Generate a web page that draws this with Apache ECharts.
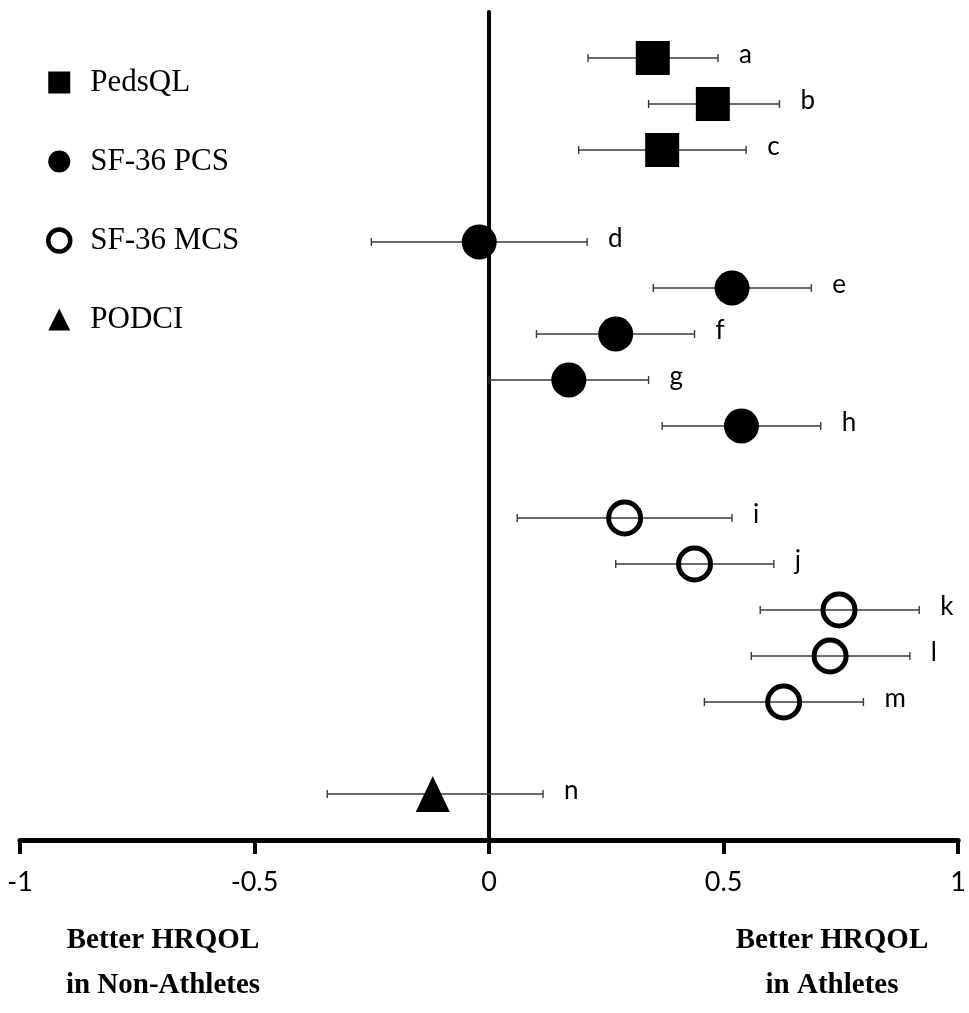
<!DOCTYPE html>
<html>
<head>
<meta charset="utf-8">
<script src="https://cdn.jsdelivr.net/npm/echarts@6/dist/echarts.min.js"></script>
<style>html,body{margin:0;padding:0;background:#fff}#chart{width:969px;height:1013px}</style>
</head>
<body>
<div id="chart"></div>
<script>
const rowLabels = ['a','b','c','d','e','f','g','h','i','j','k','l','m','n'];
const rowPos = [0,1,2,4,5,6,7,8,10,11,12,13,14,16];
const estimates = [0.349,0.477,0.369,-0.021,0.518,0.270,0.170,0.538,0.289,0.438,0.746,0.727,0.628,-0.120];
const lower = [0.211,0.340,0.191,-0.251,0.350,0.101,0.000,0.369,0.060,0.270,0.578,0.559,0.459,-0.345];
const upper = [0.488,0.619,0.548,0.209,0.687,0.438,0.340,0.707,0.518,0.607,0.917,0.897,0.798,0.115];
const instrument = ['PedsQL','PedsQL','PedsQL','SF-36 PCS','SF-36 PCS','SF-36 PCS','SF-36 PCS','SF-36 PCS',
  'SF-36 MCS','SF-36 MCS','SF-36 MCS','SF-36 MCS','SF-36 MCS','PODCI'];
const instruments = ['PedsQL','SF-36 PCS','SF-36 MCS','PODCI'];
const xTicks = [-1,-0.5,0,0.5,1];
const leftCaption = ['Better HRQOL','in Non-Athletes'];
const rightCaption = ['Better HRQOL','in Athletes'];

const symbolStyles = {
  'PedsQL': {symbol:'rect', symbolSize:34, itemStyle:{color:'#000',opacity:1}},
  'SF-36 PCS': {symbol:'circle', symbolSize:35, itemStyle:{color:'#000',opacity:1}},
  'SF-36 MCS': {symbol:'circle', symbolSize:32, itemStyle:{color:'rgba(255,255,255,0)', borderColor:'#000', borderWidth:5,opacity:1}},
  'PODCI': {symbol:'triangle', symbolSize:[34,36], itemStyle:{color:'#000',opacity:1}}
};
const legendIcons = {
  'PedsQL': {icon:'rect', itemStyle:{color:'#000',opacity:1}},
  'SF-36 PCS': {icon:'circle', itemStyle:{color:'#000',opacity:1}},
  'SF-36 MCS': {icon:'circle', itemStyle:{color:'#fff', borderColor:'#000', borderWidth:4.5,opacity:1}},
  'PODCI': {icon:'triangle', itemStyle:{color:'#000',opacity:1}}
};

const errData = rowLabels.map((l,i)=>[lower[i], upper[i], rowPos[i], l]);

const scatterSeries = instruments.map(name => {
  const st = symbolStyles[name];
  const data = [];
  instrument.forEach((ins,i)=>{ if(ins===name) data.push([estimates[i], rowPos[i]]); });
  return Object.assign({name, type:'scatter', data, z:5, emphasis:{disabled:true}}, st);
});

const chart = echarts.init(document.getElementById('chart'));
chart.setOption({
  animation:false,
  backgroundColor:'#fff',
  grid:{left:20,right:9,top:12,bottom:173},
  xAxis:{type:'value',min:-1,max:1,interval:0.5,
    axisLine:{onZero:false,lineStyle:{color:'#000',width:5}},
    axisTick:{show:true,length:14,lineStyle:{color:'#000',width:4}},
    splitLine:{show:false},
    axisLabel:{fontFamily:'Lato',fontSize:27,color:'#000',margin:29,
      customValues:xTicks, formatter:v=>String(v)}
  },
  yAxis:{type:'value',min:-1,max:17,inverse:true,
    axisLine:{show:true,onZero:true,lineStyle:{color:'#000',width:4}},
    axisTick:{show:false},axisLabel:{show:false},splitLine:{show:false}
  },
  legend:{orient:'vertical',left:41,top:62,itemWidth:22,itemHeight:22,itemGap:48,
    data:instruments.map(n=>Object.assign({name:n}, legendIcons[n])),
    textStyle:{fontFamily:'Liberation Serif',fontSize:31,color:'#000',lineHeight:30,padding:[0,0,0,15]}
  },
  series:[{
    type:'custom',
    data:errData,
    encode:{x:[0,1],y:2},
    z:3,
    renderItem:(params,api)=>{
      const y = api.value(2);
      const p1 = api.coord([api.value(0), y]);
      const p2 = api.coord([api.value(1), y]);
      const cap = 4;
      const ls = {stroke:'#3a3a3a', lineWidth:1.4};
      return {type:'group',children:[
        {type:'line',shape:{x1:p1[0],y1:p1[1],x2:p2[0],y2:p2[1]},style:ls},
        {type:'line',shape:{x1:p1[0],y1:p1[1]-cap,x2:p1[0],y2:p1[1]+cap},style:ls},
        {type:'line',shape:{x1:p2[0],y1:p2[1]-cap,x2:p2[0],y2:p2[1]+cap},style:ls},
        {type:'text',x:p2[0]+21,y:p2[1]-3,style:{text:api.value(3),fontFamily:'Lato',fontSize:26,fill:'#000',textAlign:'left',textVerticalAlign:'middle'}}
      ]};
    }
  }].concat(scatterSeries),
  graphic:[
    {type:'text',x:163,y:941,style:{text:leftCaption[0],font:'bold 29px "Liberation Serif"',fill:'#000',textAlign:'center',textVerticalAlign:'middle'}},
    {type:'text',x:163,y:986,style:{text:leftCaption[1],font:'bold 29px "Liberation Serif"',fill:'#000',textAlign:'center',textVerticalAlign:'middle'}},
    {type:'text',x:832,y:941,style:{text:rightCaption[0],font:'bold 29px "Liberation Serif"',fill:'#000',textAlign:'center',textVerticalAlign:'middle'}},
    {type:'text',x:832,y:986,style:{text:rightCaption[1],font:'bold 29px "Liberation Serif"',fill:'#000',textAlign:'center',textVerticalAlign:'middle'}}
  ]
});
</script>
</body>
</html>
